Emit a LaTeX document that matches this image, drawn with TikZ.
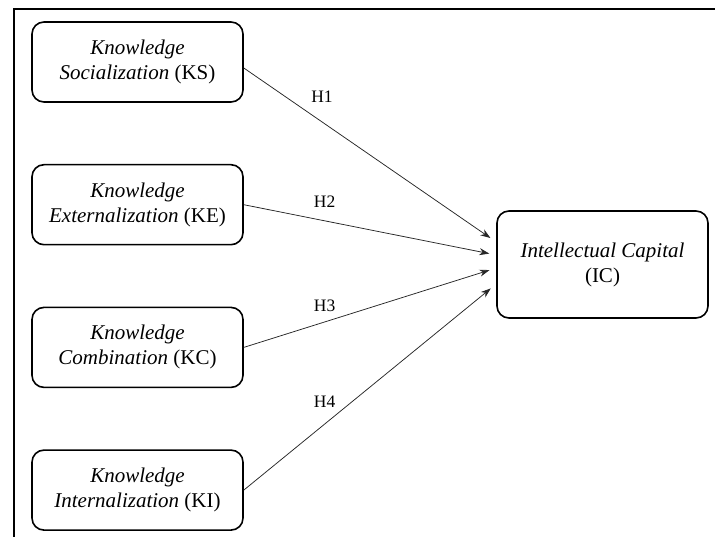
\documentclass[tikz,border=0pt]{standalone}
\usepackage{fontspec}
\setmainfont{Liberation Serif}
\usetikzlibrary{arrows.meta}

\begin{document}
\begin{tikzpicture}[x=1pt,y=1pt,->,>={Stealth[length=10pt,width=7pt]},auto,node distance=142.7pt,
  main node/.style={rectangle,rounded corners=12pt,draw,line width=1.6pt,fill=white,
    minimum width=211pt,minimum height=80pt,align=center,font=\fontsize{21}{25}\selectfont},
  hyp node/.style={font=\fontsize{17.5}{19}\selectfont,inner sep=1pt}]
  \useasboundingbox (0,0) rectangle (715,-537);
  \draw[-,line width=1.3pt] (715,-9) -- (14,-9) -- (14,-537);

  \node[main node] (1) at (137.5,-62) {\textit{Knowledge}\\\textit{Socialization} (KS)};
  \node[main node] (2) [below of=1] {\textit{Knowledge}\\\textit{Externalization} (KE)};
  \node[main node] (3) [below of=2] {\textit{Knowledge}\\\textit{Combination} (KC)};
  \node[main node] (4) [below of=3] {\textit{Knowledge}\\\textit{Internalization} (KI)};
  \node[main node,minimum height=107pt] (5) at (602.5,-264.5) {\textit{Intellectual Capital}\\(IC)};

  \path[every edge/.append style={line width=0.75pt,draw=black!85,shorten >=7pt}]
    ([yshift=-6pt]1.east) edge node[hyp node,pos=.31,above=18pt] {H1} ([yshift=22.5pt]5.west)
    (2.east) edge node[hyp node,pos=.32,above=12pt] {H2} ([yshift=9.5pt]5.west)
    (3.east) edge node[hyp node,pos=.32,above=9pt] {H3} ([yshift=-3.5pt]5.west)
    (4.east) edge node[hyp node,pos=.32,above=15pt] {H4} ([yshift=-19.5pt]5.west);
\end{tikzpicture}
\end{document}
